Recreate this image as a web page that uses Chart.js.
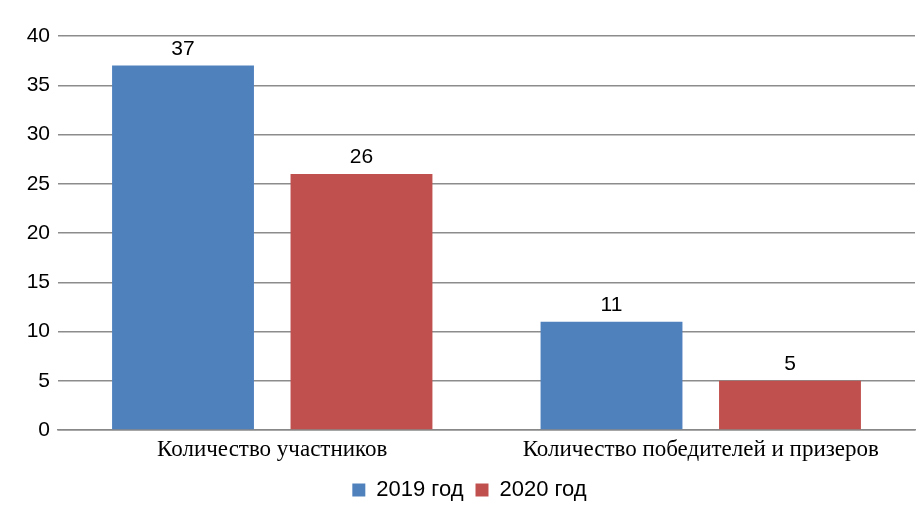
<!DOCTYPE html>
<html>
<head>
<meta charset="utf-8">
<script src="https://cdn.jsdelivr.net/npm/chart.js@4/dist/chart.umd.min.js"></script>
<style>
  html, body { margin: 0; padding: 0; background: #fff; }
  #wrap { width: 921px; height: 511px; }
</style>
</head>
<body>
<div id="wrap"><canvas id="myChart"></canvas></div>
<script>
'use strict';

// data
const categories = ['Количество участников', 'Количество победителей и призеров'];
const series2019 = [37, 11];
const series2020 = [26, 5];
const seriesNames = ['2019 год', '2020 год'];
const yTicks = [0, 5, 10, 15, 20, 25, 30, 35, 40];

const blue = '#4f81bd';
const red = '#c0504d';
const sans = '"Liberation Sans", Arial, sans-serif';
const serif = '"Liberation Serif", "Times New Roman", serif';

// value labels above each bar
const barLabels = {
    id: 'barLabels',
    afterDatasetsDraw(chart) {
        const ctx = chart.ctx;
        ctx.save();
        ctx.font = '21px ' + sans;
        ctx.fillStyle = '#000';
        ctx.textAlign = 'center';
        ctx.textBaseline = 'bottom';
        chart.data.datasets.forEach((ds, i) => {
            chart.getDatasetMeta(i).data.forEach((bar, j) => {
                ctx.fillText(ds.data[j], bar.x, bar.y - 6);
            });
        });
        ctx.restore();
    }
};

//// nudge the legend a bit to the right, like the original
const legendShift = {
    id: 'legendShift',
    afterLayout(chart) {
        chart.legend.left += 12;
        chart.legend.right += 12;
    }
};

var ctx = document.getElementById('myChart').getContext('2d');

var chart = new Chart(ctx, {
    type: 'bar',
    data: {
        labels: categories,
        datasets: [{
                label: seriesNames[0],
                backgroundColor: blue,
                data: series2019,
        },
            {
                label: seriesNames[1],
                backgroundColor: red,
                data: series2020,
        }]
    },
    options: {
        responsive: true,
        maintainAspectRatio: false,
        animation: false,
        categoryPercentage: 0.833,
        barPercentage: 0.795,
        layout: { padding: { top: 36, right: 6, left: 0, bottom: 0 } },
        plugins: {
            tooltip: { enabled: false },
            legend: {
                position: 'bottom',
                labels: {
                    color: '#000',
                    font: { family: sans, size: 22 },
                    boxWidth: 13,
                    boxHeight: 13,
                    padding: 12
                }
            }
        },
        scales: {
            x: {
                afterFit(scale) { scale.height = 37; },
                grid: { display: false },
                border: { display: true, color: '#888', width: 1.5 },
                ticks: {
                    color: '#000',
                    padding: -2,
                    maxRotation: 0,
                    font: { family: serif, size: 23 }
                }
            },
            y: {
                min: 0,
                max: 40,
                afterFit(scale) { scale.width = 58; },
                afterBuildTicks(scale) { scale.ticks = yTicks.map(v => ({ value: v })); },
                border: { display: false },
                grid: { color: '#8c8c8c', lineWidth: 1.5, drawTicks: false },
                ticks: {
                    color: '#000',
                    padding: 8,
                    font: { family: sans, size: 21 }
                }
            }
        }
    },
    plugins: [barLabels, legendShift]
});
</script>
</body>
</html>
